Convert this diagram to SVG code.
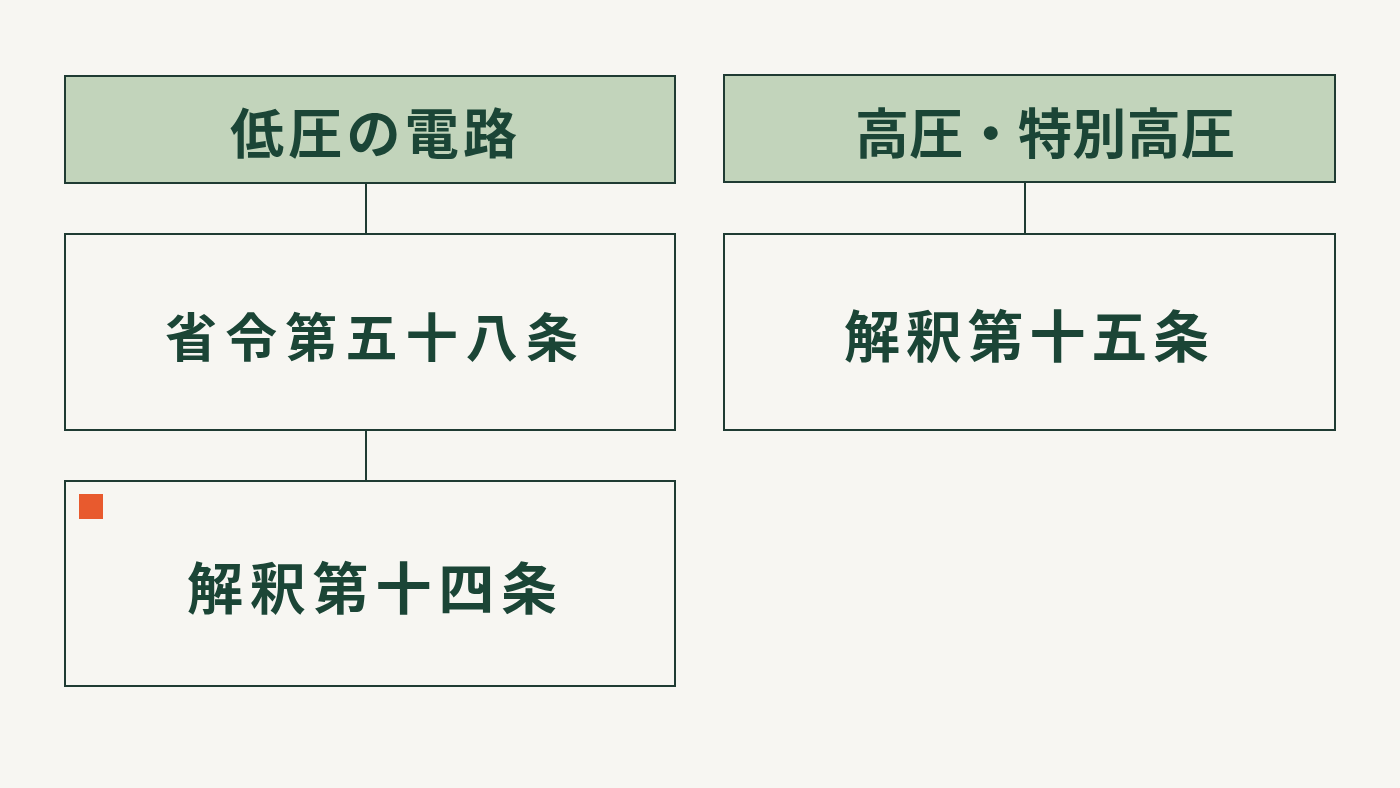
<svg xmlns="http://www.w3.org/2000/svg" width="1400" height="788" viewBox="0 0 1400 788">
<style>
.box{fill:#f7f6f2;stroke:#1f3b33;stroke-width:2}
.head{fill:#c2d4bb;stroke:#1f3b33;stroke-width:2}
.t{font-family:"Noto Sans CJK JP","Noto Sans CJK SC",sans-serif;font-weight:700;fill:#1b4536;dominant-baseline:central}
.conn{stroke:#1f3b33;stroke-width:2;fill:none}
</style>
<rect width="1400" height="788" fill="#f7f6f2"/>
<g id="connectors">
<line class="conn" x1="366" y1="183" x2="366" y2="234"/>
<line class="conn" x1="366" y1="430" x2="366" y2="481"/>
<line class="conn" x1="1025" y1="182" x2="1025" y2="234"/>
</g>
<g id="n-low">
<rect class="head" x="65" y="76" width="610" height="107"/>
<text class="t" x="230" y="130" font-size="54" textLength="287" lengthAdjust="spacing">低圧の電路</text>
</g>
<g id="n-shorei58">
<rect class="box" x="65" y="234" width="610" height="196"/>
<text class="t" x="165" y="334" font-size="52" textLength="413" lengthAdjust="spacing">省令第五十八条</text>
</g>
<g id="n-kaishaku14">
<rect class="box" x="65" y="481" width="610" height="205"/>
<rect x="79" y="494" width="24" height="25" fill="#e85a2e"/>
<text class="t" x="187" y="584" font-size="56" textLength="370" lengthAdjust="spacing">解釈第十四条</text>
</g>
<g id="n-high">
<rect class="head" x="724" y="75" width="611" height="107"/>
<text class="t" x="855" y="130" font-size="54" textLength="380" lengthAdjust="spacing">高圧・特別高圧</text>
</g>
<g id="n-kaishaku15">
<rect class="box" x="724" y="234" width="611" height="196"/>
<text class="t" x="844" y="332" font-size="56" textLength="365" lengthAdjust="spacing">解釈第十五条</text>
</g>
</svg>
